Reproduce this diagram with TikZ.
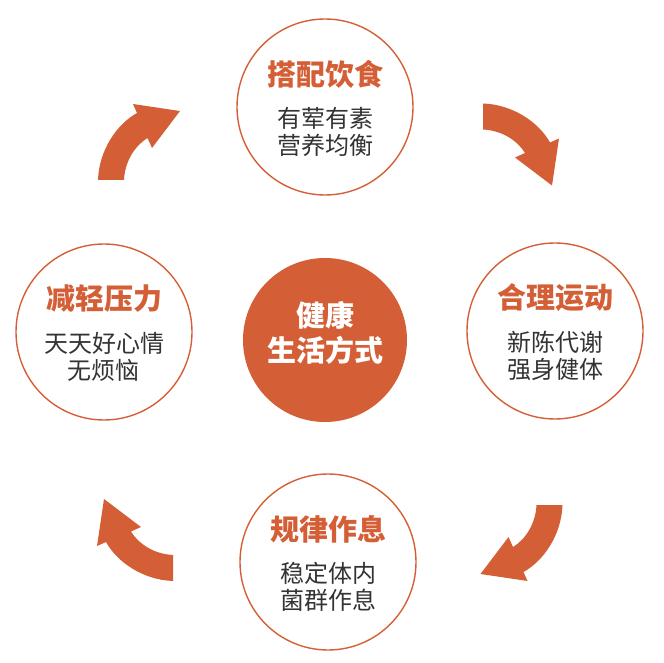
\documentclass[tikz,border=0pt]{standalone}
\usepackage{fontspec}
\setmainfont{Noto Sans CJK SC}
\usepackage{xcolor}
\usepackage{tikz}

\definecolor{rust}{RGB}{212,95,54}
\definecolor{ink}{RGB}{51,51,51}

\begin{document}
\begin{tikzpicture}[x=1pt, y=1pt]
    % --- DEFINE STYLES ---
    % Style for the four outer circles
    \tikzstyle{ring_c} = [circle, draw=rust, line width=1.4pt, minimum size=176pt, inner sep=0pt]
    % Style for the filled circle in the middle
    \tikzstyle{core_c} = [circle, fill=rust, minimum size=164pt, inner sep=0pt]
    % Style for the orange headings
    \tikzstyle{title_t} = [text=rust, inner sep=0pt, font=\fontsize{29}{32}\selectfont\bfseries]
    % Style for the two grey lines below a heading
    \tikzstyle{body_t} = [text=ink, inner sep=0pt, align=center, font=\fontsize{24}{27}\selectfont]
    % Style for the white text in the middle
    \tikzstyle{core_t} = [title_t, text=white, align=center, font=\fontsize{29}{35}\selectfont\bfseries]

    \useasboundingbox (0,0) rectangle (664,662);

    % --- CIRCLES ---
    \node[core_c] (core) at (325,322) {};
    \node[ring_c] (diet) at (325,555) {};
    \node[ring_c] (sport) at (555,331) {};
    \node[ring_c] (sleep) at (328,100) {};
    \node[ring_c] (relax) at (104,330) {};

    % --- TEXTS ---
    \node[core_t] (core-t) at ([yshift=7.5pt]core.center) {健康\\生活方式};

    \node[title_t] (diet-t) at ([yshift=33pt]diet.center) {搭配饮食};
    \node[body_t] (diet-b) at ([yshift=-25pt]diet.center) {有荤有素\\营养均衡};

    \node[title_t] (sport-t) at ([yshift=33pt]sport.center) {合理运动};
    \node[body_t] (sport-b) at ([yshift=-25pt]sport.center) {新陈代谢\\强身健体};

    \node[title_t] (sleep-t) at ([yshift=33pt]sleep.center) {规律作息};
    \node[body_t] (sleep-b) at ([yshift=-25pt]sleep.center) {稳定体内\\菌群作息};

    \node[title_t] (relax-t) at ([yshift=33pt]relax.center) {减轻压力};
    \node[body_t] (relax-b) at ([yshift=-25pt]relax.center) {天天好心情\\无烦恼};

    % --- CURVED ARROWS (clockwise) ---
    \foreach \px/\py/\ang in {111/482/0, 483/545.5/-90, 549.5/157/180, 173/94/90} {
        \fill[rust, shift={(\px,\py)}, rotate=\ang]
            (-13,0) .. controls (-12,30) and (6,56) .. (26,67)
            -- (22,76) -- (69,69) -- (41,32) -- (36.5,42)
            .. controls (25,35) and (14,20) .. (13,0) -- cycle;
    }
\end{tikzpicture}
\end{document}
